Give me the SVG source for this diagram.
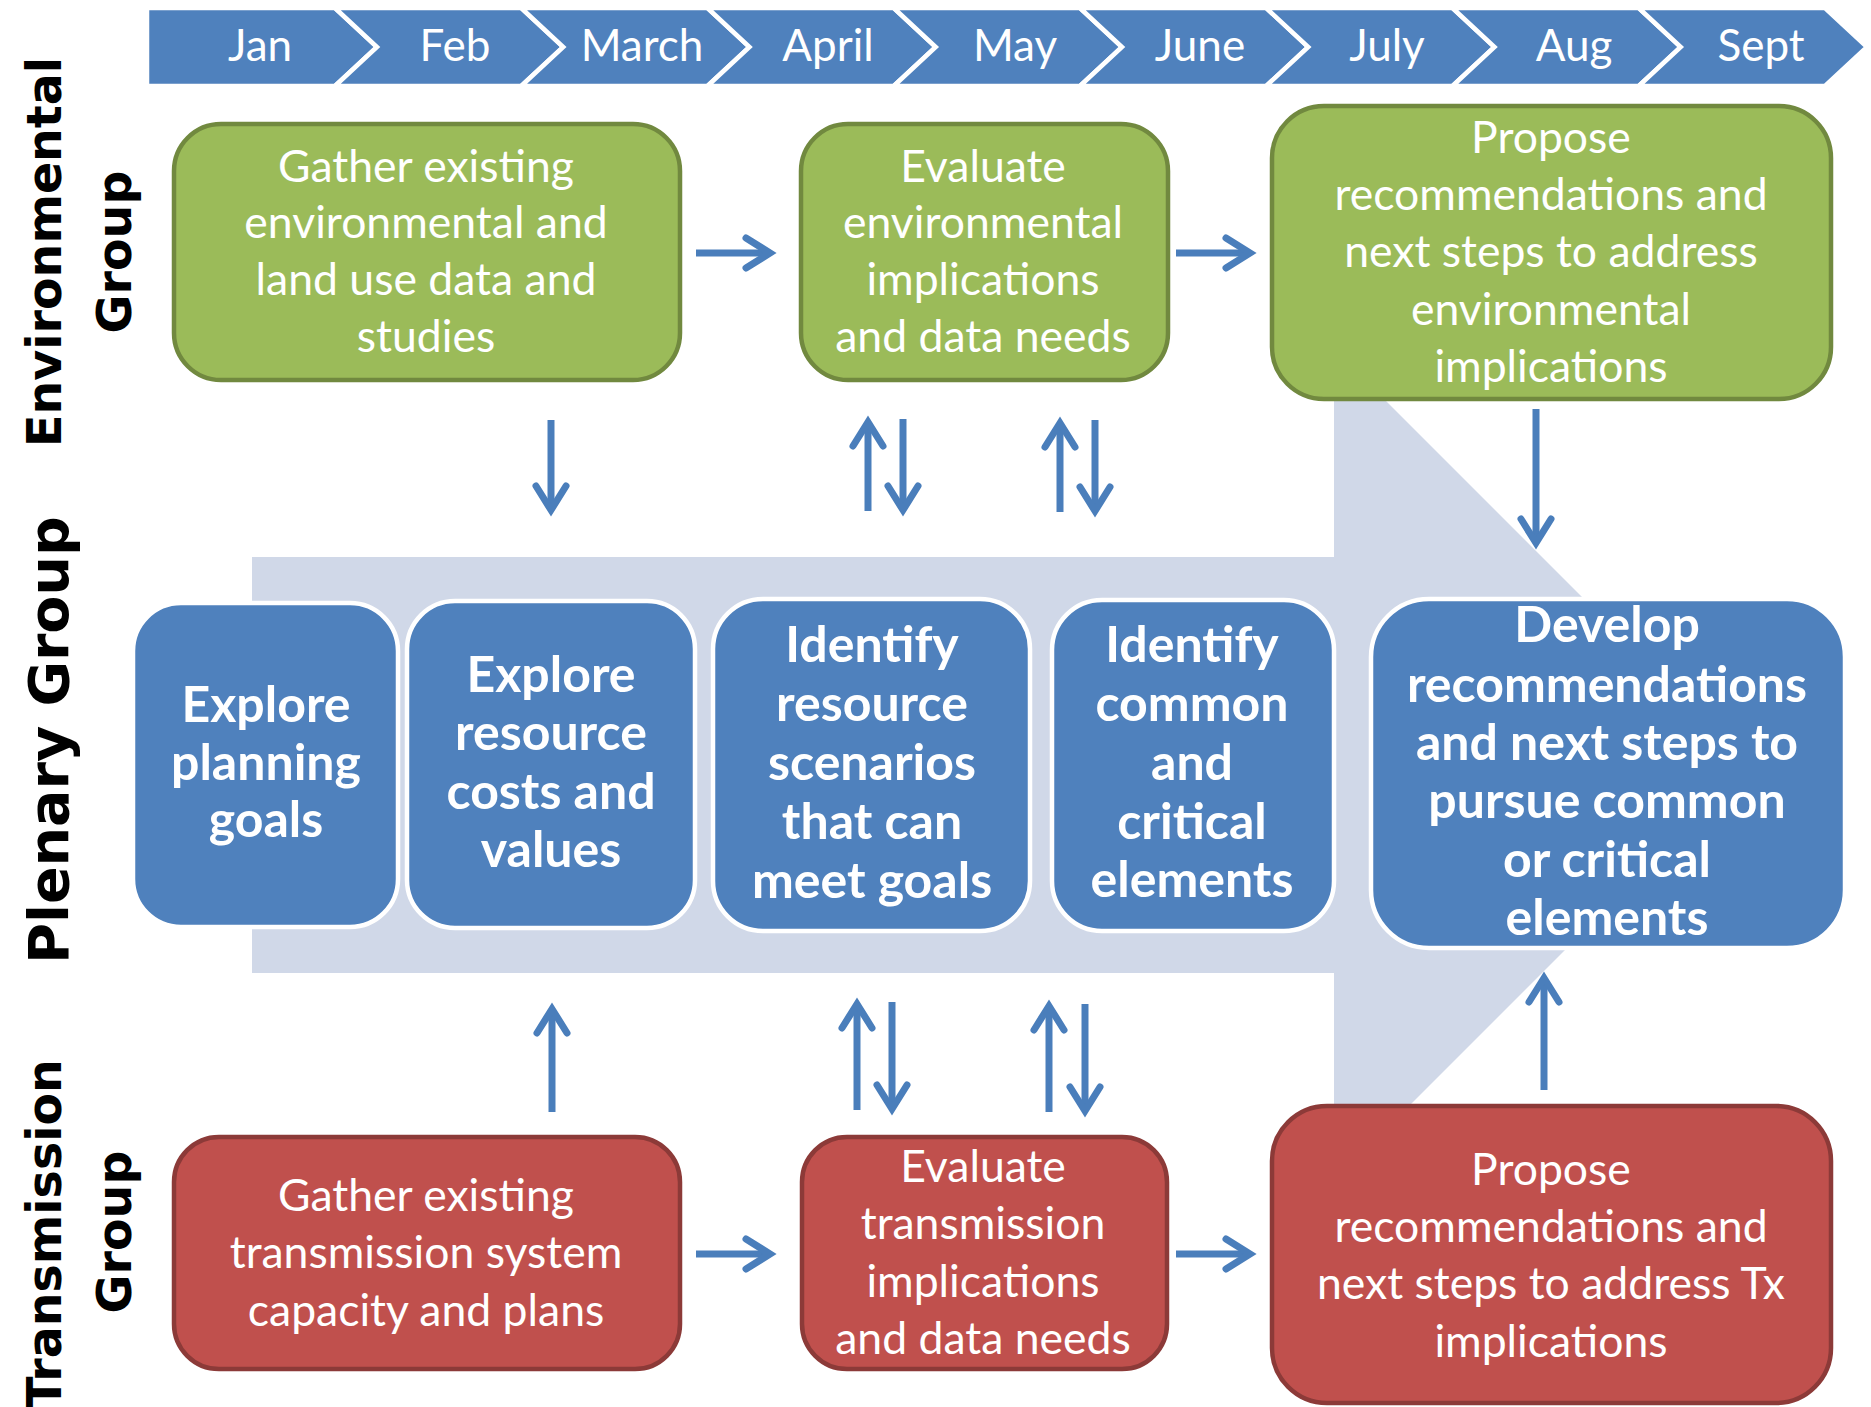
<svg xmlns="http://www.w3.org/2000/svg" width="1871" height="1407" viewBox="0 0 1871 1407">
<style>
.chev{fill:#4F81BD;stroke:#FFFFFF;stroke-width:4.5;stroke-linejoin:miter}
.mon{font-family:Lato,"Liberation Sans",sans-serif;font-size:44px;fill:#FFFFFF;text-anchor:middle}
.env{fill:#9BBB59;stroke:#71893F;stroke-width:4.5}
.tx{fill:#C0504D;stroke:#8C3A38;stroke-width:4.5}
.pl{fill:#4F81BD;stroke:#FFFFFF;stroke-width:4.5}
.lt{font-family:Lato,"Liberation Sans",sans-serif;font-size:44.5px;fill:#FFFFFF;text-anchor:middle}
.bt{font-family:Lato,"Liberation Sans",sans-serif;font-size:50px;font-weight:bold;fill:#FFFFFF;text-anchor:middle}
.lab{font-family:"DejaVu Sans",Verdana,sans-serif;font-weight:bold;fill:#000000;text-anchor:middle}
.arr{stroke:#4A7EBB;stroke-width:7;fill:none;marker-end:url(#ah)}
</style>
<defs>
<marker id="ah" markerUnits="userSpaceOnUse" markerWidth="60" markerHeight="60" refX="-8" refY="0" orient="auto" overflow="visible">
<path d="M-30,-15 L-6,0 L-30,15" fill="none" stroke="#4A7EBB" stroke-width="7" stroke-linecap="round" stroke-linejoin="miter"/>
</marker>
</defs>
<rect x="0" y="0" width="1871" height="1407" fill="#FFFFFF"/>

<g id="timeline">
<polygon class="chev" points="147,8 335,8 377,47 335,86 147,86"/>
<polygon class="chev" points="335,8 521.25,8 563.25,47 521.25,86 335,86 377,47"/>
<polygon class="chev" points="521.25,8 707.5,8 749.5,47 707.5,86 521.25,86 563.25,47"/>
<polygon class="chev" points="707.5,8 893.75,8 935.75,47 893.75,86 707.5,86 749.5,47"/>
<polygon class="chev" points="893.75,8 1080,8 1122,47 1080,86 893.75,86 935.75,47"/>
<polygon class="chev" points="1080,8 1266.25,8 1308.25,47 1266.25,86 1080,86 1122,47"/>
<polygon class="chev" points="1266.25,8 1452.5,8 1494.5,47 1452.5,86 1266.25,86 1308.25,47"/>
<polygon class="chev" points="1452.5,8 1638.75,8 1680.75,47 1638.75,86 1452.5,86 1494.5,47"/>
<polygon class="chev" points="1638.75,8 1825,8 1867,47 1825,86 1638.75,86 1680.75,47"/>
<text class="mon" x="260" y="61">Jan</text>
<text class="mon" x="455" y="61">Feb</text>
<text class="mon" x="642" y="61">March</text>
<text class="mon" x="828" y="61">April</text>
<text class="mon" x="1015" y="61">May</text>
<text class="mon" x="1200" y="61">June</text>
<text class="mon" x="1387" y="61">July</text>
<text class="mon" x="1574" y="61">Aug</text>
<text class="mon" x="1761" y="61">Sept</text>
</g>

<g id="labels">
<text class="lab" font-size="47.5" transform="translate(61,252) rotate(-90)">Environmental</text>
<text class="lab" font-size="47.5" transform="translate(131,252) rotate(-90)">Group</text>
<text class="lab" font-size="55.5" transform="translate(68,740) rotate(-90)">Plenary Group</text>
<text class="lab" font-size="47.5" transform="translate(61,1234) rotate(-90)">Transmission</text>
<text class="lab" font-size="47.5" transform="translate(131,1232) rotate(-90)">Group</text>
</g>

<g id="plenary-band">
<polygon points="252,557 1334,557 1334,349 1750,765 1334,1181 1334,973 252,973" fill="#D0D8E8"/>
</g>

<g id="env1">
<rect class="env" x="174" y="124" width="506" height="256" rx="47"/>
<text class="lt" x="426" y="182">Gather existing</text>
<text class="lt" x="426" y="238">environmental and</text>
<text class="lt" x="426" y="295">land use data and</text>
<text class="lt" x="426" y="352">studies</text>
</g>
<g id="env2">
<rect class="env" x="801" y="124" width="367" height="256" rx="47"/>
<text class="lt" x="983" y="182">Evaluate</text>
<text class="lt" x="983" y="238">environmental</text>
<text class="lt" x="983" y="295">implications</text>
<text class="lt" x="983" y="352">and data needs</text>
</g>
<g id="env3">
<rect class="env" x="1272" y="106" width="559" height="293" rx="52"/>
<text class="lt" x="1551" y="153">Propose</text>
<text class="lt" x="1551" y="210">recommendations and</text>
<text class="lt" x="1551" y="267">next steps to address</text>
<text class="lt" x="1551" y="325">environmental</text>
<text class="lt" x="1551" y="382">implications</text>
</g>

<g id="pl1">
<rect class="pl" x="133" y="603" width="265" height="324" rx="48"/>
<text class="bt" x="266" y="722">Explore</text>
<text class="bt" x="266" y="780">planning</text>
<text class="bt" x="266" y="837">goals</text>
</g>
<g id="pl2">
<rect class="pl" x="407" y="601" width="288" height="327" rx="48"/>
<text class="bt" x="551" y="692">Explore</text>
<text class="bt" x="551" y="750">resource</text>
<text class="bt" x="551" y="809">costs and</text>
<text class="bt" x="551" y="867">values</text>
</g>
<g id="pl3">
<rect class="pl" x="713" y="599" width="317" height="332" rx="50"/>
<text class="bt" x="872" y="662">Identify</text>
<text class="bt" x="872" y="721">resource</text>
<text class="bt" x="872" y="780">scenarios</text>
<text class="bt" x="872" y="839">that can</text>
<text class="bt" x="872" y="898">meet goals</text>
</g>
<g id="pl4">
<rect class="pl" x="1052" y="600" width="282" height="331" rx="50"/>
<text class="bt" x="1192" y="662">Identify</text>
<text class="bt" x="1192" y="721">common</text>
<text class="bt" x="1192" y="780">and</text>
<text class="bt" x="1192" y="839">critical</text>
<text class="bt" x="1192" y="897">elements</text>
</g>
<g id="pl5">
<rect class="pl" x="1371" y="599" width="474" height="349" rx="58"/>
<text class="bt" x="1607" y="642">Develop</text>
<text class="bt" x="1607" y="702">recommendations</text>
<text class="bt" x="1607" y="760">and next steps to</text>
<text class="bt" x="1607" y="818">pursue common</text>
<text class="bt" x="1607" y="877">or critical</text>
<text class="bt" x="1607" y="935">elements</text>
</g>

<g id="tx1">
<rect class="tx" x="174" y="1137" width="506" height="232" rx="45"/>
<text class="lt" x="426" y="1211">Gather existing</text>
<text class="lt" x="426" y="1268">transmission system</text>
<text class="lt" x="426" y="1326">capacity and plans</text>
</g>
<g id="tx2">
<rect class="tx" x="802" y="1137" width="365" height="232" rx="45"/>
<text class="lt" x="983" y="1182">Evaluate</text>
<text class="lt" x="983" y="1239">transmission</text>
<text class="lt" x="983" y="1297">implications</text>
<text class="lt" x="983" y="1354">and data needs</text>
</g>
<g id="tx3">
<rect class="tx" x="1272" y="1106" width="559" height="297" rx="55"/>
<text class="lt" x="1551" y="1185">Propose</text>
<text class="lt" x="1551" y="1242">recommendations and</text>
<text class="lt" x="1551" y="1299">next steps to address Tx</text>
<text class="lt" x="1551" y="1357">implications</text>
</g>

<g id="connectors">
<line class="arr" x1="696" y1="253" x2="768" y2="253"/>
<line class="arr" x1="1176" y1="253" x2="1248" y2="253"/>
<line class="arr" x1="696" y1="1254" x2="768" y2="1254"/>
<line class="arr" x1="1176" y1="1254" x2="1248" y2="1254"/>
<line class="arr" x1="551" y1="420" x2="551" y2="508"/>
<line class="arr" x1="868" y1="511" x2="868" y2="424"/>
<line class="arr" x1="903" y1="419" x2="903" y2="508"/>
<line class="arr" x1="1060" y1="512" x2="1060" y2="425"/>
<line class="arr" x1="1095" y1="420" x2="1095" y2="509"/>
<line class="arr" x1="1536" y1="409" x2="1536" y2="541"/>
<line class="arr" x1="552" y1="1112" x2="552" y2="1011"/>
<line class="arr" x1="857" y1="1110" x2="857" y2="1006"/>
<line class="arr" x1="892" y1="1002" x2="892" y2="1107"/>
<line class="arr" x1="1049" y1="1112" x2="1049" y2="1008"/>
<line class="arr" x1="1085" y1="1004" x2="1085" y2="1109"/>
<line class="arr" x1="1544" y1="1090" x2="1544" y2="980"/>
</g>
</svg>
